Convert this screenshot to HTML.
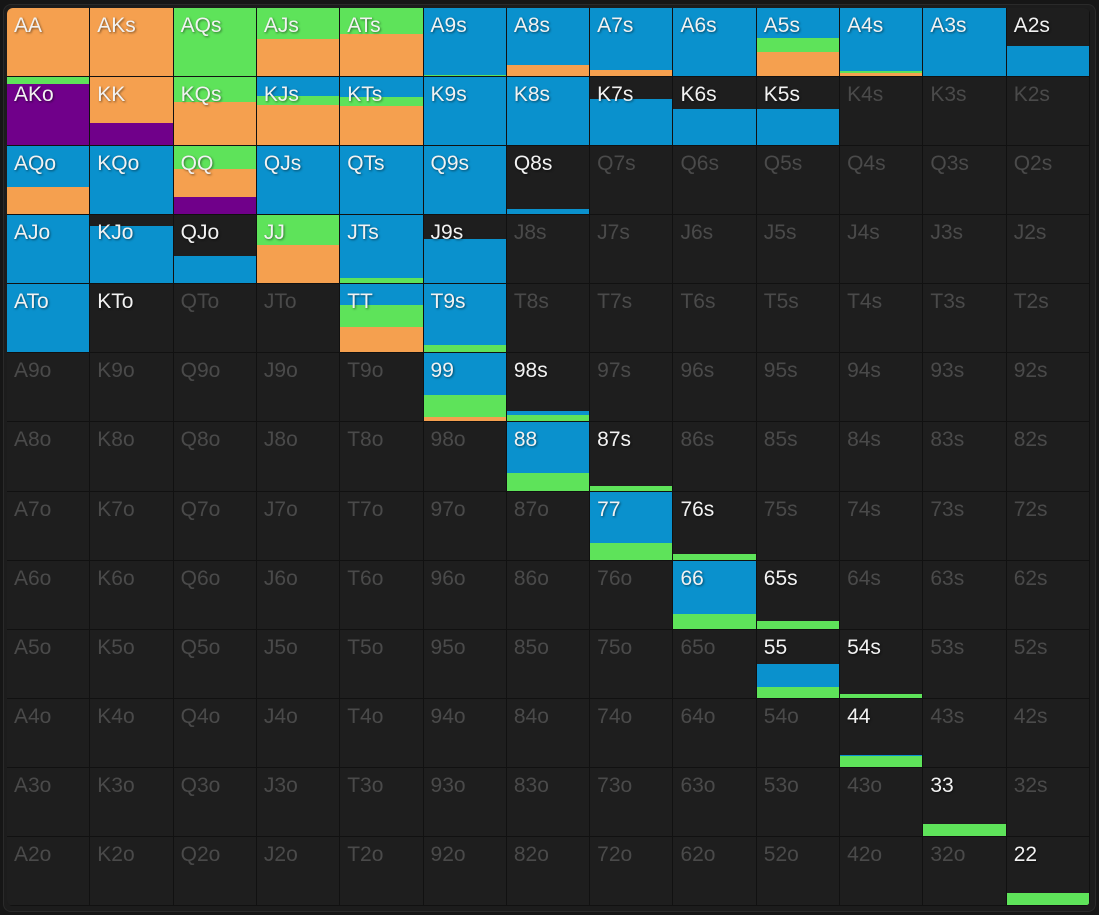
<!DOCTYPE html>
<html><head><meta charset="utf-8"><style>
html,body{margin:0;padding:0;background:#161616;width:1099px;height:915px;overflow:hidden}
.wrap{position:absolute;left:3px;top:4px;width:1091px;height:906px;background:#1c1c1c;border-radius:8px;border:1px solid #2a2a2a}
.g{position:absolute;left:7px;top:8px;width:1083px;height:898px;display:grid;grid-template-columns:repeat(13,1fr);grid-template-rows:repeat(13,1fr);background:#111;border-radius:6px;overflow:hidden}
.c{position:relative;background:#1e1e1e;border-right:1px solid #111;border-bottom:1px solid #111;overflow:hidden}
.s{position:absolute;left:0;right:0;bottom:0;display:flex;flex-direction:column-reverse}
.s i{display:block;width:100%}
.p{background:#70008a}.o{background:#f5a04f}.gr{background:#5ee35a}.b{background:#0a91cd}
.c b{position:absolute;left:7px;top:6px;font:21px "Liberation Sans",sans-serif;color:#f2f2f2;text-shadow:1px 1px 2px rgba(0,0,0,.5);z-index:2;font-weight:normal}
.c b.d{color:#4a4a4a;text-shadow:none}
</style></head><body><div class="wrap"></div><div class="g">
<div class="c"><div class="s"><i class="o" style="height:69px"></i></div><b>AA</b></div>
<div class="c"><div class="s"><i class="o" style="height:69px"></i></div><b>AKs</b></div>
<div class="c"><div class="s"><i class="gr" style="height:69px"></i></div><b>AQs</b></div>
<div class="c"><div class="s"><i class="o" style="height:37px"></i><i class="gr" style="height:32px"></i></div><b>AJs</b></div>
<div class="c"><div class="s"><i class="o" style="height:42px"></i><i class="gr" style="height:27px"></i></div><b>ATs</b></div>
<div class="c"><div class="s"><i class="gr" style="height:1px"></i><i class="b" style="height:68px"></i></div><b>A9s</b></div>
<div class="c"><div class="s"><i class="o" style="height:11px"></i><i class="b" style="height:58px"></i></div><b>A8s</b></div>
<div class="c"><div class="s"><i class="o" style="height:6px"></i><i class="b" style="height:63px"></i></div><b>A7s</b></div>
<div class="c"><div class="s"><i class="b" style="height:69px"></i></div><b>A6s</b></div>
<div class="c"><div class="s"><i class="o" style="height:24px"></i><i class="gr" style="height:14px"></i><i class="b" style="height:31px"></i></div><b>A5s</b></div>
<div class="c"><div class="s"><i class="o" style="height:3px"></i><i class="gr" style="height:2px"></i><i class="b" style="height:64px"></i></div><b>A4s</b></div>
<div class="c"><div class="s"><i class="b" style="height:69px"></i></div><b>A3s</b></div>
<div class="c"><div class="s"><i class="b" style="height:30px"></i></div><b>A2s</b></div>

<div class="c"><div class="s"><i class="p" style="height:61px"></i><i class="gr" style="height:8px"></i></div><b>AKo</b></div>
<div class="c"><div class="s"><i class="p" style="height:22px"></i><i class="o" style="height:47px"></i></div><b>KK</b></div>
<div class="c"><div class="s"><i class="o" style="height:43px"></i><i class="gr" style="height:26px"></i></div><b>KQs</b></div>
<div class="c"><div class="s"><i class="o" style="height:40px"></i><i class="gr" style="height:9px"></i><i class="b" style="height:20px"></i></div><b>KJs</b></div>
<div class="c"><div class="s"><i class="o" style="height:39px"></i><i class="gr" style="height:9px"></i><i class="b" style="height:21px"></i></div><b>KTs</b></div>
<div class="c"><div class="s"><i class="b" style="height:69px"></i></div><b>K9s</b></div>
<div class="c"><div class="s"><i class="b" style="height:69px"></i></div><b>K8s</b></div>
<div class="c"><div class="s"><i class="b" style="height:46px"></i></div><b>K7s</b></div>
<div class="c"><div class="s"><i class="b" style="height:36px"></i></div><b>K6s</b></div>
<div class="c"><div class="s"><i class="b" style="height:36px"></i></div><b>K5s</b></div>
<div class="c"><b class="d">K4s</b></div><div class="c"><b class="d">K3s</b></div><div class="c"><b class="d">K2s</b></div>

<div class="c"><div class="s"><i class="o" style="height:27px"></i><i class="b" style="height:42px"></i></div><b>AQo</b></div>
<div class="c"><div class="s"><i class="b" style="height:69px"></i></div><b>KQo</b></div>
<div class="c"><div class="s"><i class="p" style="height:17px"></i><i class="o" style="height:28px"></i><i class="gr" style="height:24px"></i></div><b>QQ</b></div>
<div class="c"><div class="s"><i class="b" style="height:69px"></i></div><b>QJs</b></div>
<div class="c"><div class="s"><i class="b" style="height:69px"></i></div><b>QTs</b></div>
<div class="c"><div class="s"><i class="b" style="height:69px"></i></div><b>Q9s</b></div>
<div class="c"><div class="s"><i class="b" style="height:5px"></i></div><b>Q8s</b></div>
<div class="c"><b class="d">Q7s</b></div><div class="c"><b class="d">Q6s</b></div><div class="c"><b class="d">Q5s</b></div><div class="c"><b class="d">Q4s</b></div><div class="c"><b class="d">Q3s</b></div><div class="c"><b class="d">Q2s</b></div>

<div class="c"><div class="s"><i class="b" style="height:69px"></i></div><b>AJo</b></div>
<div class="c"><div class="s"><i class="b" style="height:57px"></i></div><b>KJo</b></div>
<div class="c"><div class="s"><i class="b" style="height:27px"></i></div><b>QJo</b></div>
<div class="c"><div class="s"><i class="o" style="height:38px"></i><i class="gr" style="height:31px"></i></div><b>JJ</b></div>
<div class="c"><div class="s"><i class="gr" style="height:5px"></i><i class="b" style="height:64px"></i></div><b>JTs</b></div>
<div class="c"><div class="s"><i class="b" style="height:44px"></i></div><b>J9s</b></div>
<div class="c"><b class="d">J8s</b></div><div class="c"><b class="d">J7s</b></div><div class="c"><b class="d">J6s</b></div><div class="c"><b class="d">J5s</b></div><div class="c"><b class="d">J4s</b></div><div class="c"><b class="d">J3s</b></div><div class="c"><b class="d">J2s</b></div>

<div class="c"><div class="s"><i class="b" style="height:69px"></i></div><b>ATo</b></div>
<div class="c"><b>KTo</b></div>
<div class="c"><b class="d">QTo</b></div><div class="c"><b class="d">JTo</b></div>
<div class="c"><div class="s"><i class="o" style="height:25px"></i><i class="gr" style="height:22px"></i><i class="b" style="height:22px"></i></div><b>TT</b></div>
<div class="c"><div class="s"><i class="gr" style="height:7px"></i><i class="b" style="height:62px"></i></div><b>T9s</b></div>
<div class="c"><b class="d">T8s</b></div><div class="c"><b class="d">T7s</b></div><div class="c"><b class="d">T6s</b></div><div class="c"><b class="d">T5s</b></div><div class="c"><b class="d">T4s</b></div><div class="c"><b class="d">T3s</b></div><div class="c"><b class="d">T2s</b></div>

<div class="c"><b class="d">A9o</b></div><div class="c"><b class="d">K9o</b></div><div class="c"><b class="d">Q9o</b></div><div class="c"><b class="d">J9o</b></div><div class="c"><b class="d">T9o</b></div>
<div class="c"><div class="s"><i class="o" style="height:4px"></i><i class="gr" style="height:22px"></i><i class="b" style="height:43px"></i></div><b>99</b></div>
<div class="c"><div class="s"><i class="gr" style="height:6px"></i><i class="b" style="height:4px"></i></div><b>98s</b></div>
<div class="c"><b class="d">97s</b></div><div class="c"><b class="d">96s</b></div><div class="c"><b class="d">95s</b></div><div class="c"><b class="d">94s</b></div><div class="c"><b class="d">93s</b></div><div class="c"><b class="d">92s</b></div>

<div class="c"><b class="d">A8o</b></div><div class="c"><b class="d">K8o</b></div><div class="c"><b class="d">Q8o</b></div><div class="c"><b class="d">J8o</b></div><div class="c"><b class="d">T8o</b></div><div class="c"><b class="d">98o</b></div>
<div class="c"><div class="s"><i class="gr" style="height:18px"></i><i class="b" style="height:51px"></i></div><b>88</b></div>
<div class="c"><div class="s"><i class="gr" style="height:5px"></i></div><b>87s</b></div>
<div class="c"><b class="d">86s</b></div><div class="c"><b class="d">85s</b></div><div class="c"><b class="d">84s</b></div><div class="c"><b class="d">83s</b></div><div class="c"><b class="d">82s</b></div>

<div class="c"><b class="d">A7o</b></div><div class="c"><b class="d">K7o</b></div><div class="c"><b class="d">Q7o</b></div><div class="c"><b class="d">J7o</b></div><div class="c"><b class="d">T7o</b></div><div class="c"><b class="d">97o</b></div><div class="c"><b class="d">87o</b></div>
<div class="c"><div class="s"><i class="gr" style="height:17px"></i><i class="b" style="height:52px"></i></div><b>77</b></div>
<div class="c"><div class="s"><i class="gr" style="height:6px"></i></div><b>76s</b></div>
<div class="c"><b class="d">75s</b></div><div class="c"><b class="d">74s</b></div><div class="c"><b class="d">73s</b></div><div class="c"><b class="d">72s</b></div>

<div class="c"><b class="d">A6o</b></div><div class="c"><b class="d">K6o</b></div><div class="c"><b class="d">Q6o</b></div><div class="c"><b class="d">J6o</b></div><div class="c"><b class="d">T6o</b></div><div class="c"><b class="d">96o</b></div><div class="c"><b class="d">86o</b></div><div class="c"><b class="d">76o</b></div>
<div class="c"><div class="s"><i class="gr" style="height:15px"></i><i class="b" style="height:54px"></i></div><b>66</b></div>
<div class="c"><div class="s"><i class="gr" style="height:8px"></i></div><b>65s</b></div>
<div class="c"><b class="d">64s</b></div><div class="c"><b class="d">63s</b></div><div class="c"><b class="d">62s</b></div>

<div class="c"><b class="d">A5o</b></div><div class="c"><b class="d">K5o</b></div><div class="c"><b class="d">Q5o</b></div><div class="c"><b class="d">J5o</b></div><div class="c"><b class="d">T5o</b></div><div class="c"><b class="d">95o</b></div><div class="c"><b class="d">85o</b></div><div class="c"><b class="d">75o</b></div><div class="c"><b class="d">65o</b></div>
<div class="c"><div class="s"><i class="gr" style="height:11px"></i><i class="b" style="height:23px"></i></div><b>55</b></div>
<div class="c"><div class="s"><i class="gr" style="height:4px"></i></div><b>54s</b></div>
<div class="c"><b class="d">53s</b></div><div class="c"><b class="d">52s</b></div>

<div class="c"><b class="d">A4o</b></div><div class="c"><b class="d">K4o</b></div><div class="c"><b class="d">Q4o</b></div><div class="c"><b class="d">J4o</b></div><div class="c"><b class="d">T4o</b></div><div class="c"><b class="d">94o</b></div><div class="c"><b class="d">84o</b></div><div class="c"><b class="d">74o</b></div><div class="c"><b class="d">64o</b></div><div class="c"><b class="d">54o</b></div>
<div class="c"><div class="s"><i class="gr" style="height:11px"></i><i class="b" style="height:1px"></i></div><b>44</b></div>
<div class="c"><b class="d">43s</b></div><div class="c"><b class="d">42s</b></div>

<div class="c"><b class="d">A3o</b></div><div class="c"><b class="d">K3o</b></div><div class="c"><b class="d">Q3o</b></div><div class="c"><b class="d">J3o</b></div><div class="c"><b class="d">T3o</b></div><div class="c"><b class="d">93o</b></div><div class="c"><b class="d">83o</b></div><div class="c"><b class="d">73o</b></div><div class="c"><b class="d">63o</b></div><div class="c"><b class="d">53o</b></div><div class="c"><b class="d">43o</b></div>
<div class="c"><div class="s"><i class="gr" style="height:12px"></i></div><b>33</b></div>
<div class="c"><b class="d">32s</b></div>

<div class="c"><b class="d">A2o</b></div><div class="c"><b class="d">K2o</b></div><div class="c"><b class="d">Q2o</b></div><div class="c"><b class="d">J2o</b></div><div class="c"><b class="d">T2o</b></div><div class="c"><b class="d">92o</b></div><div class="c"><b class="d">82o</b></div><div class="c"><b class="d">72o</b></div><div class="c"><b class="d">62o</b></div><div class="c"><b class="d">52o</b></div><div class="c"><b class="d">42o</b></div><div class="c"><b class="d">32o</b></div>
<div class="c"><div class="s"><i class="gr" style="height:12px"></i></div><b>22</b></div>
</div></body></html>
